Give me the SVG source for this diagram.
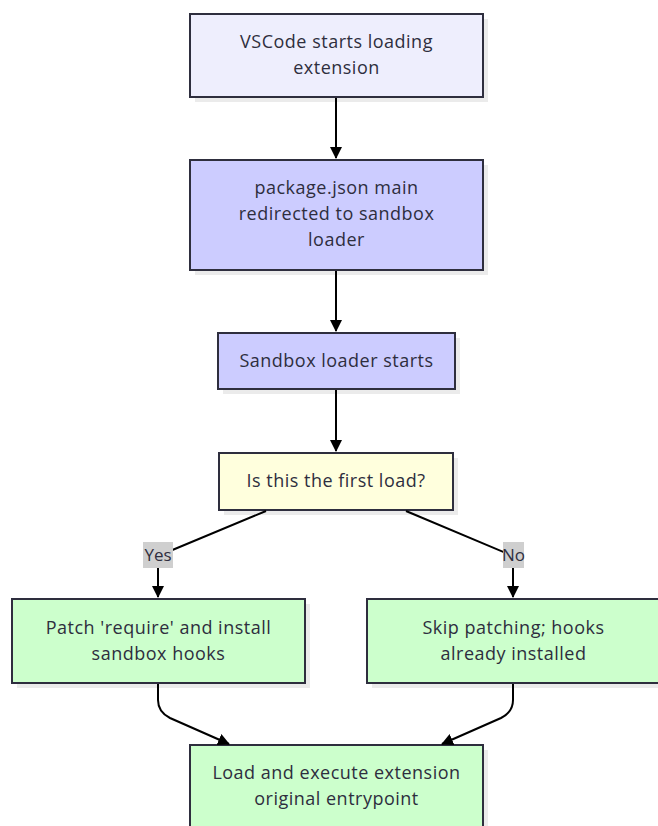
<svg xmlns="http://www.w3.org/2000/svg" width="658" height="826" viewBox="0 0 658 826">
  <defs>
    <marker id="arrow" viewBox="0 0 12 12" refX="11" refY="6" markerWidth="12" markerHeight="12" markerUnits="userSpaceOnUse" orient="auto">
      <path d="M0,0 L12,6 L0,12 z" fill="#000"/>
    </marker>
  </defs>
  <style>
    .box { stroke: #2e2e3e; stroke-width: 2; }
    .shadow { fill: #ebebeb; }
    .lav { fill: #eeeefd; }
    .blue { fill: #ccccff; }
    .yellow { fill: #ffffdd; }
    .green { fill: #ccffcc; }
    .label { font-family: "Open Sans", "Noto Sans", sans-serif; font-size: 18px; letter-spacing: 0.5px; fill: #2e2e3e; text-anchor: middle; }
    .edge { fill: none; stroke: #000; stroke-width: 2; }
    .tag { fill: #cfcfcf; }
  </style>

  <g id="vscode-start">
    <rect class="shadow" x="195" y="19" width="293" height="83"/>
    <rect class="box lav" x="190" y="14" width="293" height="83"/>
    <text class="label" x="336.5" y="48">VSCode starts loading</text>
    <text class="label" x="336.5" y="74">extension</text>
  </g>

  <g id="package-main">
    <rect class="shadow" x="195" y="165" width="293" height="110"/>
    <rect class="box blue" x="190" y="160" width="293" height="110"/>
    <text class="label" x="336.5" y="194">package.json main</text>
    <text class="label" x="336.5" y="220">redirected to sandbox</text>
    <text class="label" x="336.5" y="246">loader</text>
  </g>

  <g id="loader-start">
    <rect class="shadow" x="223" y="338" width="237" height="56"/>
    <rect class="box blue" x="218" y="333" width="237" height="56"/>
    <text class="label" x="336.5" y="367">Sandbox loader starts</text>
  </g>

  <g id="first-load">
    <rect class="shadow" x="224" y="458" width="234" height="57"/>
    <rect class="box yellow" x="219" y="453" width="234" height="57"/>
    <text class="label" x="336" y="487">Is this the first load?</text>
  </g>

  <g id="patch-require">
    <rect class="shadow" x="17" y="604" width="293" height="84"/>
    <rect class="box green" x="12" y="599" width="293" height="84"/>
    <text class="label" x="158.5" y="634">Patch 'require' and install</text>
    <text class="label" x="158.5" y="660">sandbox hooks</text>
  </g>

  <g id="skip-patching">
    <rect class="shadow" x="372" y="604" width="293" height="84"/>
    <rect class="box green" x="367" y="599" width="293" height="84"/>
    <text class="label" x="513.5" y="634">Skip patching; hooks</text>
    <text class="label" x="513.5" y="660">already installed</text>
  </g>

  <g id="load-entrypoint">
    <rect class="shadow" x="195" y="750" width="293" height="84"/>
    <rect class="box green" x="190" y="745" width="293" height="84"/>
    <text class="label" x="336.5" y="779">Load and execute extension</text>
    <text class="label" x="336.5" y="805">original entrypoint</text>
  </g>

  <g id="connectors">
    <path class="edge" d="M336,98 L336,158" marker-end="url(#arrow)"/>
    <path class="edge" d="M336,271 L336,331" marker-end="url(#arrow)"/>
    <path class="edge" d="M336,390 L336,451" marker-end="url(#arrow)"/>
    <path class="edge" d="M266,511 L158,556 L158,597" marker-end="url(#arrow)"/>
    <path class="edge" d="M406,511 L513,556 L513,597" marker-end="url(#arrow)"/>
    <path class="edge" d="M158,684 L158,700 Q158,712 170,718 L229,744" marker-end="url(#arrow)"/>
    <path class="edge" d="M513,684 L513,700 Q513,712 501,718 L442,744" marker-end="url(#arrow)"/>
    <g id="edge-labels">
      <rect class="tag" x="143" y="542" width="30" height="26"/>
      <text class="label" x="158" y="561" style="font-size:17px;letter-spacing:0">Yes</text>
      <rect class="tag" x="503" y="542" width="21" height="26"/>
      <text class="label" x="513.5" y="561" style="font-size:17px;letter-spacing:0">No</text>
    </g>
  </g>
</svg>
